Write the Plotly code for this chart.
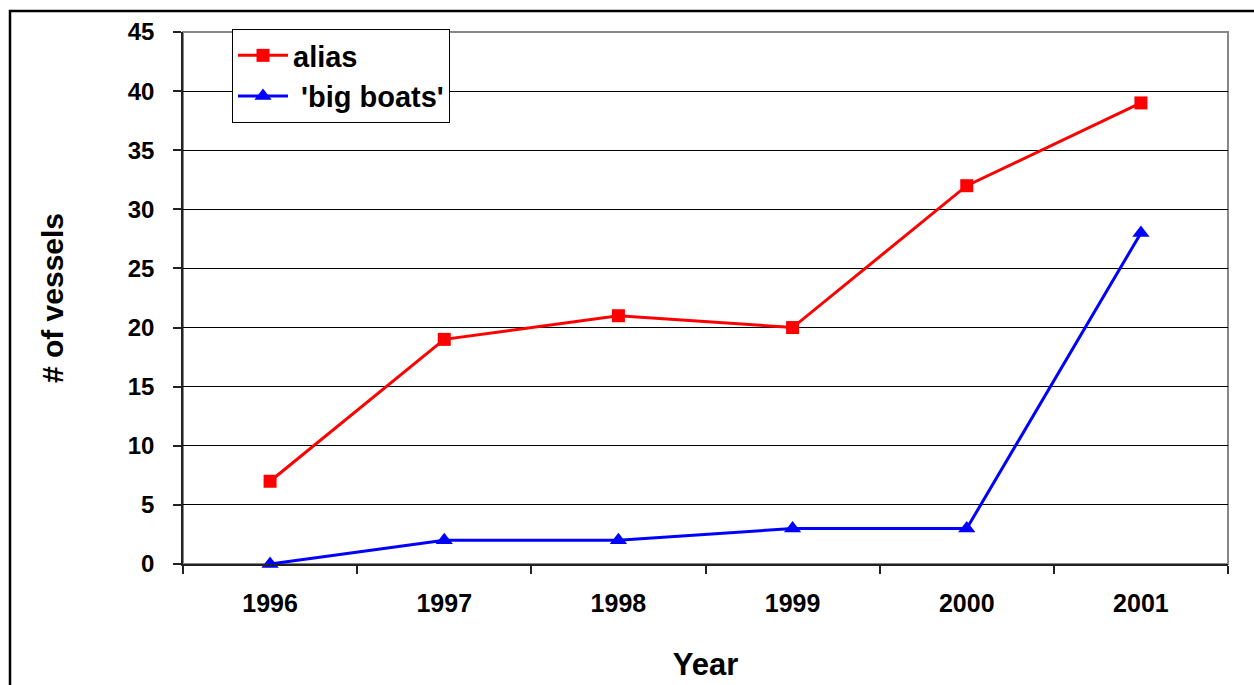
import plotly.graph_objects as go

years = ["1996", "1997", "1998", "1999", "2000", "2001"]
alias = [7, 19, 21, 20, 32, 39]
big_boats = [0, 2, 2, 3, 3, 28]
y_ticks = [0, 5, 10, 15, 20, 25, 30, 35, 40, 45]

W, H = 1254, 685
L, R, T, B = 183, 26, 32, 121
pw, ph = W - L - R, H - T - B

def px_x(p):
    return (p - L) / pw

def px_y(p):
    return (H - B - p) / ph

FONT = "Liberation Sans, Arial, sans-serif"

fig = go.Figure()
fig.add_trace(go.Scatter(
    x=years, y=alias, name="<b>alias</b>", mode="lines+markers",
    line=dict(color="#FF0000", width=3),
    marker=dict(symbol="square", size=13, color="#FF0000"),
))
fig.add_trace(go.Scatter(
    x=years, y=big_boats, name="<b> 'big boats'</b>", mode="lines+markers",
    line=dict(color="#0000FF", width=3),
    marker=dict(symbol="triangle-up", size=15, color="#0000FF"),
    cliponaxis=False,
))

# plot-area frame (gray top/right)
fig.add_shape(type="rect", xref="paper", yref="paper", x0=0, x1=1, y0=0, y1=1,
              line=dict(color="#888888", width=2), layer="below")
# outer chart frame
fig.add_shape(type="rect", xref="paper", yref="paper",
              x0=px_x(10), x1=px_x(1262), y0=px_y(700), y1=px_y(11),
              line=dict(color="black", width=2.5), layer="above")

fig.update_layout(
    width=W, height=H,
    margin=dict(l=L, r=R, t=T, b=B, autoexpand=False),
    paper_bgcolor="white", plot_bgcolor="white",
    font=dict(family=FONT, color="black"),
    showlegend=True,
    legend=dict(
        x=px_x(232), y=px_y(29), xanchor="left", yanchor="top",
        bgcolor="white", bordercolor="black", borderwidth=1,
        font=dict(size=29, family=FONT, color="black"),
        itemwidth=50,
    ),
)
fig.update_xaxes(
    type="category", range=[-0.5, 5.5],
    showline=True, linecolor="#222222", linewidth=1.5,
    ticks="outside", tickson="boundaries", ticklen=8, tickcolor="#222222", tickwidth=1.5,
    showgrid=False, tickfont=dict(size=25, family=FONT),
    tickprefix="<b>", ticksuffix="</b>",
    ticklabelstandoff=16,
    title=dict(text="<b>Year</b>", font=dict(size=31, family=FONT), standoff=38),
)
fig.update_yaxes(
    range=[0, 45], tickvals=y_ticks, ticktext=[f"<b>{v}</b>" for v in y_ticks],
    showline=True, linecolor="#222222", linewidth=1.5,
    ticks="outside", ticklen=8, tickcolor="#222222", tickwidth=1.5,
    showgrid=True, gridcolor="black", gridwidth=1, zeroline=False,
    tickfont=dict(size=24, family=FONT),
    ticklabelstandoff=14,
    title=dict(text="<b># of vessels</b>", font=dict(size=30, family=FONT), standoff=55),
)

fig.write_html("out.html")
